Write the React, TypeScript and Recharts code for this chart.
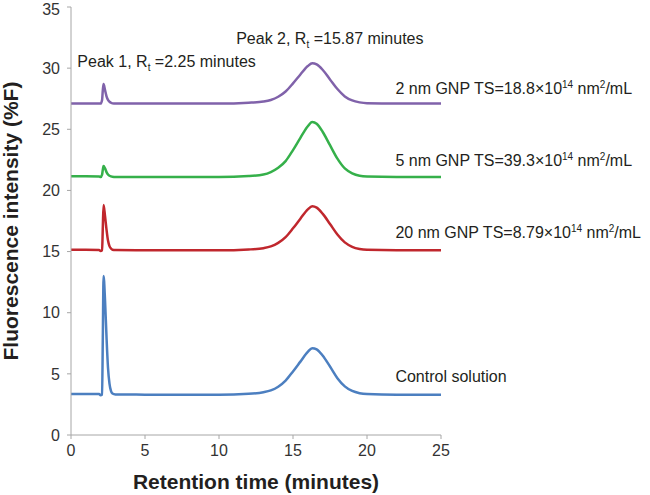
import React from 'react';
import { LineChart, Line, XAxis, YAxis, ReferenceDot } from 'recharts';

// retention time (minutes), shared by every trace
const TIME = [
  0, 1, 1.9, 2.0, 2.1, 2.15, 2.2, 2.3, 2.4, 2.5, 2.6, 2.7, 2.8, 3, 5, 8, 10,
  12, 13, 13.5, 14, 14.5, 15, 15.5, 16, 16.3, 16.6, 17, 17.5, 18, 18.5, 19, 19.5, 20, 22, 25,
];

// fluorescence intensity (%F)
const CONTROL = [
  3.35, 3.35, 3.35, 3.25, 3.3, 8.0, 13.0, 11.0, 8.0, 5.5, 4.2, 3.6, 3.4, 3.32, 3.3, 3.3, 3.3,
  3.37, 3.5, 3.65, 3.95, 4.45, 5.2, 6.0, 6.8, 7.1, 7.0, 6.5, 5.6, 4.65, 3.98, 3.6, 3.42, 3.35, 3.3, 3.3,
];
const GNP20 = [
  15.15, 15.15, 15.12, 15.05, 15.1, 17.0, 18.8, 17.9, 16.8, 15.9, 15.45, 15.25, 15.15, 15.12, 15.1, 15.1, 15.1,
  15.17, 15.28, 15.42, 15.71, 16.18, 16.9, 17.69, 18.45, 18.7, 18.59, 18.1, 17.26, 16.4, 15.75, 15.39, 15.21, 15.14, 15.1, 15.1,
];
const GNP5 = [
  21.15, 21.15, 21.13, 21.1, 21.3, 21.7, 22.0, 21.8, 21.5, 21.3, 21.2, 21.15, 21.12, 21.1, 21.1, 21.1, 21.1,
  21.17, 21.3, 21.5, 21.85, 22.4, 23.3, 24.3, 25.25, 25.6, 25.45, 24.8, 23.7, 22.6, 21.8, 21.4, 21.2, 21.14, 21.1, 21.1,
];
const GNP2 = [
  27.1, 27.1, 27.1, 27.1, 27.4, 28.2, 28.7, 28.2, 27.7, 27.4, 27.25, 27.17, 27.12, 27.1, 27.1, 27.1, 27.1,
  27.17, 27.27, 27.4, 27.66, 28.09, 28.75, 29.48, 30.17, 30.4, 30.3, 29.87, 29.08, 28.29, 27.69, 27.36, 27.2, 27.13, 27.1, 27.1,
];

const X_TICKS = [0, 5, 10, 15, 20, 25];
const Y_TICKS = [0, 5, 10, 15, 20, 25, 30, 35];

type Seg = { t: string; k?: 'sub' | 'sup' };

// annotation anchors (data coords) and their text
const NOTES: { x: number; y: number; parts: Seg[] }[] = [
  { x: 0.43, y: 30.1, parts: [{ t: 'Peak 1, R' }, { t: 't', k: 'sub' }, { t: ' =2.25 minutes' }] },
  { x: 11.16, y: 32.0, parts: [{ t: 'Peak 2, R' }, { t: 't', k: 'sub' }, { t: ' =15.87 minutes' }] },
  { x: 21.92, y: 27.9, parts: [{ t: '2 nm GNP TS=18.8×10' }, { t: '14', k: 'sup' }, { t: ' nm' }, { t: '2', k: 'sup' }, { t: '/mL' }] },
  { x: 21.92, y: 22.0, parts: [{ t: '5 nm GNP TS=39.3×10' }, { t: '14', k: 'sup' }, { t: ' nm' }, { t: '2', k: 'sup' }, { t: '/mL' }] },
  { x: 21.92, y: 16.08, parts: [{ t: '20 nm GNP TS=8.79×10' }, { t: '14', k: 'sup' }, { t: ' nm' }, { t: '2', k: 'sup' }, { t: '/mL' }] },
  { x: 21.92, y: 4.36, parts: [{ t: 'Control solution' }] },
];

const FONT = '"Liberation Sans", Arial, sans-serif';
const AXIS = '#a6a6a6';
const INK = '#231f20';

const data = TIME.map((t, i) => ({
  t,
  control: CONTROL[i],
  gnp20: GNP20[i],
  gnp5: GNP5[i],
  gnp2: GNP2[i],
}));

function noteLabel(parts: Seg[]) {
  return (props: any) => {
    const { x, y } = props.viewBox;
    let shift = 0;
    return (
      <text x={x} y={y} fontSize={16} fill={INK} fontFamily={FONT}>
        {parts.map((p, i) => {
          const target = p.k === 'sub' ? 4 : p.k === 'sup' ? -6 : 0;
          const dy = target - shift;
          shift = target;
          return (
            <tspan key={i} dy={dy} fontSize={p.k ? 10 : 16}>
              {p.t}
            </tspan>
          );
        })}
      </text>
    );
  };
}

function YTitle(props: any) {
  const cy = props.viewBox.y + props.viewBox.height / 2;
  return (
    <text
      x={17.5}
      y={cy}
      transform={`rotate(-90, 17.5, ${cy})`}
      textAnchor="middle"
      fontSize={21}
      fontWeight="bold"
      fill={INK}
      fontFamily={FONT}
    >
      Fluorescence intensity (%F)
    </text>
  );
}

export default function App() {
  return (
    <div style={{ position: 'absolute', left: 0, top: 0, background: '#fff' }}>
      <LineChart width={650} height={495} data={data} margin={{ top: 7, right: 209, left: 0, bottom: 0 }}>
        <XAxis
          dataKey="t"
          type="number"
          domain={[0, 25]}
          ticks={X_TICKS}
          height={60}
          stroke={AXIS}
          tickSize={4}
          tickMargin={6}
          tick={{ fill: '#333', fontSize: 16, fontFamily: FONT }}
          label={{
            value: 'Retention time (minutes)',
            position: 'insideBottom',
            offset: 6,
            style: { fontSize: 21, fontWeight: 'bold', fill: INK, fontFamily: FONT },
          }}
        />
        <YAxis
          type="number"
          domain={[0, 35]}
          ticks={Y_TICKS}
          width={71}
          stroke={AXIS}
          tickSize={4}
          tickMargin={7}
          tick={{ fill: '#333', fontSize: 16, fontFamily: FONT }}
          label={{ content: YTitle }}
        />
        <Line dataKey="control" type="monotone" stroke="#4c7fc0" strokeWidth={2.5} dot={false} isAnimationActive={false} />
        <Line dataKey="gnp20" type="monotone" stroke="#c0272d" strokeWidth={2.5} dot={false} isAnimationActive={false} />
        <Line dataKey="gnp5" type="monotone" stroke="#35b04a" strokeWidth={2.5} dot={false} isAnimationActive={false} />
        <Line dataKey="gnp2" type="monotone" stroke="#8062aa" strokeWidth={2.5} dot={false} isAnimationActive={false} />
        {NOTES.map((n, i) => (
          <ReferenceDot key={i} x={n.x} y={n.y} r={0} fill="none" stroke="none" label={noteLabel(n.parts)} />
        ))}
      </LineChart>
    </div>
  );
}
